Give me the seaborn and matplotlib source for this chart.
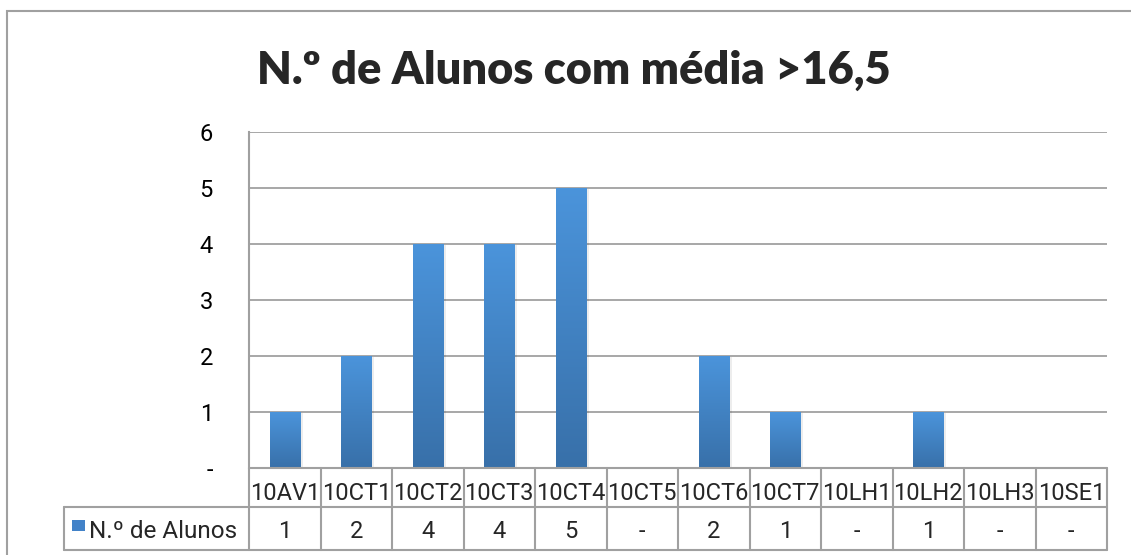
import numpy as np
import pandas as pd
import seaborn as sns
import matplotlib.pyplot as plt
from matplotlib.colors import LinearSegmentedColormap
from matplotlib.patches import Rectangle
from matplotlib.lines import Line2D
from matplotlib.transforms import blended_transform_factory

# data
turmas = ["10AV1", "10CT1", "10CT2", "10CT3", "10CT4", "10CT5",
          "10CT6", "10CT7", "10LH1", "10LH2", "10LH3", "10SE1"]
n_alunos = [1, 2, 4, 4, 5, 0, 2, 1, 0, 1, 0, 0]
serie = "N.º de Alunos"
titulo = "N.º de Alunos com média >16,5"
y_ticks = [0, 1, 2, 3, 4, 5, 6]
y_labels = ["-", "1", "2", "3", "4", "5", "6"]

W, H = 1131, 555
GREY = "#a0a0a0"
TOP_BLUE = "#4b94db"
BOT_BLUE = "#3870a9"

sns.set_theme(style="white")
txt_font = ["Roboto", "DejaVu Sans"]
plt.rcParams["font.family"] = txt_font

df = pd.DataFrame({"turma": turmas, "n": n_alunos})

fig = plt.figure(figsize=(W / 100, H / 100), dpi=100)
ax = fig.add_axes([249 / W, 87 / H, 858 / W, 336 / H])

sns.barplot(data=df, x="turma", y="n", color=TOP_BLUE, width=0.42, ax=ax)

# gradient fill on each bar
cmap = LinearSegmentedColormap.from_list("bar", [BOT_BLUE, TOP_BLUE])
grad = np.linspace(0, 1, 256).reshape(-1, 1)
for p in ax.patches:
    h = p.get_height()
    if h <= 0:
        continue
    x0 = p.get_x()
    x1 = x0 + p.get_width()
    # soft shadow
    ax.add_patch(Rectangle((x0 + 0.02, 0), p.get_width() + 0.02, h - 0.02,
                           color="#000000", alpha=0.07, lw=0, zorder=1.5))
    ax.imshow(grad, extent=(x0, x1, 0, h), origin="lower", aspect="auto",
              cmap=cmap, zorder=2)
    p.set_visible(False)

ax.set_xlim(-0.5, len(turmas) - 0.5)
ax.set_ylim(0, 6)
ax.set_yticks(y_ticks)
ax.set_yticklabels(y_labels, fontsize=17)
ax.set_xticks([])
ax.set_xlabel("")
ax.set_ylabel("")
ax.tick_params(axis="y", length=0, pad=26, colors="black")
ax.yaxis.grid(True, color=GREY, lw=1.3)
ax.set_axisbelow(True)
for s in ["top", "right", "bottom"]:
    ax.spines[s].set_visible(False)
ax.spines["left"].set_color(GREY)
ax.spines["left"].set_linewidth(1.5)


def fy(y):
    return 1 - y / H


# data table below the plot
tr = blended_transform_factory(ax.transData, fig.transFigure)
n = len(turmas)
row1_top, row_mid, row2_bot = 468, 507, 550
lw_tab = 1.5
fig.add_artist(Line2D([-0.5, n - 0.5], [fy(row1_top)] * 2, transform=tr,
                      color=GREY, lw=lw_tab))
fig.add_artist(Line2D([64 / W, 1107 / W], [fy(row_mid)] * 2,
                      transform=fig.transFigure, color=GREY, lw=lw_tab))
fig.add_artist(Line2D([64 / W, 1107 / W], [fy(row2_bot)] * 2,
                      transform=fig.transFigure, color=GREY, lw=lw_tab))
fig.add_artist(Line2D([64 / W, 64 / W], [fy(row_mid), fy(row2_bot)],
                      transform=fig.transFigure, color=GREY, lw=lw_tab))
for i in range(n + 1):
    fig.add_artist(Line2D([i - 0.5, i - 0.5], [fy(row1_top), fy(row2_bot)],
                          transform=tr, color=GREY, lw=lw_tab))

for i, (t, v) in enumerate(zip(turmas, n_alunos)):
    fig.text(i, fy(500), t, transform=tr, ha="center", va="baseline",
             fontsize=17)
    fig.text(i, fy(538), str(v) if v > 0 else "-", transform=tr,
             ha="center", va="baseline", fontsize=17)

# legend key + series name
fig.add_artist(Rectangle((72 / W, fy(531)), 13 / W, 11 / H,
                         transform=fig.transFigure, color="#4282c8", lw=0))
fig.text(89 / W, fy(538), serie, ha="left", va="baseline", fontsize=17.5)

# title
fig.text(574 / W, fy(83.5), titulo, ha="center", va="baseline",
         fontsize=32.5, fontweight="heavy",
         family=["Lato", "Roboto", "DejaVu Sans"])

# chart border
fig.add_artist(Rectangle((7 / W, -0.1), 1.2, fy(10.5) + 0.1,
                         transform=fig.transFigure, fill=False,
                         edgecolor=GREY, lw=1.5))

fig.savefig("out.png", dpi=100)
